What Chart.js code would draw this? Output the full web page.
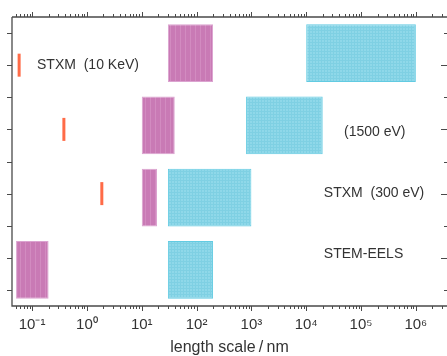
<!DOCTYPE html>
<html>
<head>
<meta charset="utf-8">
<script src="https://cdn.jsdelivr.net/npm/chart.js@4"></script>
<style>
  body { margin: 0; background: #fff; }
</style>
</head>
<body>
<canvas id="lengthChart" width="447" height="356"></canvas>
<script>
const rows = ["STXM (10 KeV)", "(1500 eV)", "STXM (300 eV)", "STEM-EELS"];
const pinkRanges = [[30, 200], [10, 40], [10, 19], [0.051, 0.2]];
const cyanRanges = [[1e4, 1e6], [800, 2e4], [30, 1000], [30, 200]];
const orangeX = [0.058, 0.38, 1.87];
const orangeRow = [0, 1, 2];

const decades = [-1, 0, 1, 2, 3, 4, 5, 6];
const tickLabels = ["10\u207B\u00B9", "10\u2070", "10\u00B9", "10\u00B2", "10\u00B3", "10\u2074", "10\u2075", "10\u2076"];

const rowTexts = ["STXM  (10 KeV)", "(1500 eV)", "STXM  (300 eV)", "STEM-EELS"];
const rowTextX = [0.123, 4.9e4, 2.1e4, 2.1e4];
const rowTextRow = [0, 1.04, 2, 2.95];

const xMin = 0.043;
const xMax = 3.7e6;

function makePattern(w, h, base, line, grid) {
  const c = document.createElement('canvas');
  c.width = w;
  c.height = h;
  const g = c.getContext('2d');
  g.fillStyle = base;
  g.fillRect(0, 0, w, h);
  g.fillStyle = line;
  g.fillRect(0, 0, 1, h);
  if (grid) g.fillRect(0, 0, w, 1);
  return g.createPattern(c, 'repeat');
}

const pinkFill = makePattern(5, 1, '#c97ab5', '#d28bc0', false);
const cyanFill = makePattern(3, 3, '#8fd8e9', '#7fd0e3', true);

// axis frame, log ticks on top/bottom, row ticks left/right, row captions
const framePlugin = {
  id: 'framePlugin',
  afterDraw(chart) {
    const { ctx, chartArea: a } = chart;
    const x = chart.scales.x;
    const yr = chart.scales.yr;
    ctx.save();
    ctx.strokeStyle = '#4a4a4a';
    ctx.lineWidth = 1.3;
    ctx.beginPath();
    ctx.moveTo(a.left, a.top);
    ctx.lineTo(a.right, a.top);
    ctx.moveTo(a.left, a.top);
    ctx.lineTo(a.left, a.bottom);
    ctx.lineTo(a.right, a.bottom);
    ctx.stroke();

    ctx.lineWidth = 1;
    ctx.beginPath();
    for (let d = -2; d <= 7; d++) {
      for (let m = 1; m <= 9; m++) {
        const v = m * Math.pow(10, d);
        if (v < xMin || v > xMax) continue;
        const px = Math.round(x.getPixelForValue(v)) + 0.5;
        const len = m === 1 ? 5 : 3;
        ctx.moveTo(px, a.top);
        ctx.lineTo(px, a.top - len);
        ctx.moveTo(px, a.bottom);
        ctx.lineTo(px, a.bottom + len);
      }
    }
    for (let v = -0.5; v <= 3.5; v += 0.5) {
      const py = Math.round(yr.getPixelForValue(v)) + 0.5;
      ctx.moveTo(a.left - 5, py);
      ctx.lineTo(a.left, py);
      const len = Number.isInteger(v) ? 6 : 3;
      ctx.moveTo(a.right, py);
      ctx.lineTo(a.right - len, py);
    }
    ctx.stroke();

    ctx.fillStyle = '#333';
    ctx.font = "14px 'Liberation Sans', Arial, sans-serif";
    ctx.textBaseline = 'middle';
    ctx.textAlign = 'left';
    rowTexts.forEach((t, i) => {
      ctx.fillText(t, x.getPixelForValue(rowTextX[i]), yr.getPixelForValue(rowTextRow[i]));
    });
    ctx.restore();
  }
};

Chart.defaults.font.family = "'Liberation Sans', Arial, sans-serif";
Chart.defaults.color = '#333';

new Chart(document.getElementById('lengthChart'), {
  type: 'bar',
  data: {
    labels: rows,
    datasets: [
      {
        label: 'pink',
        data: pinkRanges,
        backgroundColor: pinkFill,
        borderColor: '#dba3d0',
        borderWidth: 1,
        borderSkipped: false,
        grouped: false,
        barPercentage: 0.8,
        categoryPercentage: 1,
        yAxisID: 'y'
      },
      {
        label: 'cyan',
        data: cyanRanges,
        backgroundColor: cyanFill,
        borderColor: '#62cbe2',
        borderWidth: 1,
        borderSkipped: false,
        grouped: false,
        barPercentage: 0.8,
        categoryPercentage: 1,
        yAxisID: 'y'
      },
      {
        type: 'line',
        label: 'orange',
        data: orangeX.map((v, i) => ({ x: v, y: orangeRow[i] })),
        showLine: false,
        yAxisID: 'yr',
        pointStyle: 'line',
        pointRotation: 90,
        pointRadius: 11.5,
        pointBorderWidth: 3,
        borderColor: '#ff6b47',
        backgroundColor: '#ff6b47'
      }
    ]
  },
  options: {
    indexAxis: 'y',
    responsive: false,
    animation: false,
    layout: {
      autoPadding: false,
      padding: { top: 17, left: 12, right: 0, bottom: 0 }
    },
    plugins: {
      legend: { display: false },
      tooltip: { enabled: false }
    },
    scales: {
      x: {
        type: 'logarithmic',
        min: xMin,
        max: xMax,
        afterBuildTicks: scale => {
          scale.ticks = decades.map(d => ({ value: Math.pow(10, d), major: true }));
        },
        afterFit: scale => {
          scale.paddingLeft = 0;
          scale.paddingRight = 0;
          scale.height = 50;
        },
        grid: { display: false, drawTicks: true, tickLength: 5 },
        border: { display: false },
        ticks: {
          autoSkip: false,
          maxRotation: 0,
          padding: 5,
          color: '#333',
          font: { size: 15 },
          callback: (v, i) => tickLabels[i]
        },
        title: {
          display: true,
          text: 'length scale\u2009/\u2009nm',
          color: '#333',
          font: { size: 16, lineHeight: 1 },
          padding: 0
        }
      },
      y: {
        type: 'category',
        display: false,
        offset: true
      },
      yr: {
        type: 'linear',
        display: false,
        reverse: true,
        min: -0.5,
        max: 3.5
      }
    }
  },
  plugins: [framePlugin]
});
</script>
</body>
</html>
